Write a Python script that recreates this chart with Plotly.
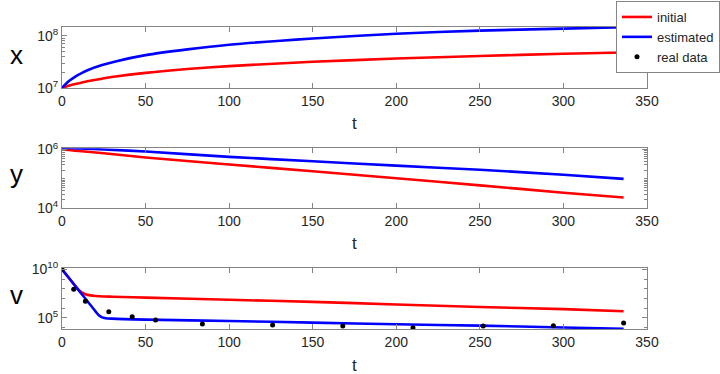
import plotly.graph_objects as go

# ---------------- data ----------------
t_x = [0, 2, 4, 8, 12, 16, 24, 32, 50, 75, 100, 150, 200, 250, 300, 336]
x_initial = [1.00e7, 1.05e7, 1.10e7, 1.19e7, 1.28e7, 1.36e7, 1.51e7, 1.66e7, 1.95e7,
             2.31e7, 2.63e7, 3.18e7, 3.67e7, 4.12e7, 4.53e7, 4.81e7]
x_estimated = [1.00e7, 1.17e7, 1.35e7, 1.66e7, 1.95e7, 2.24e7, 2.75e7, 3.24e7, 4.27e7,
               5.50e7, 6.76e7, 8.91e7, 1.10e8, 1.26e8, 1.38e8, 1.46e8]

t_y = [0, 4, 10, 25, 50, 100, 150, 200, 250, 300, 336]
y_initial = [1.0e6, 9.55e5, 8.91e5, 7.41e5, 5.37e5, 3.09e5, 1.82e5, 1.05e5,
             6.03e4, 3.39e4, 2.34e4]
y_estimated = [1.06e6, 1.12e6, 1.08e6, 1.0e6, 8.51e5, 5.62e5, 3.98e5, 2.82e5,
               2.04e5, 1.38e5, 1.0e5]

t_v_init = [0, 5, 8, 10, 12, 14, 17, 20, 25, 30, 50, 100, 150, 200, 250, 300, 336]
v_initial = [1e10, 8.32e8, 1.86e8, 7.59e7, 3.98e7, 2.69e7, 2.04e7, 1.78e7, 1.58e7,
             1.48e7, 1.20e7, 7.08e6, 4.37e6, 2.34e6, 1.26e6, 7.76e5, 4.57e5]
t_v_est = [0, 5, 10, 15, 18, 20, 22, 24, 26, 30, 50, 100, 150, 200, 250, 300, 336]
v_estimated = [1e10, 8.32e8, 6.76e7, 5.62e6, 1.26e6, 4.57e5, 1.78e5, 1.07e5, 8.91e4,
               7.94e4, 6.31e4, 4.57e4, 3.09e4, 2.09e4, 1.51e4, 9.77e3, 7.24e3]

t_data = [0, 7, 14, 28, 42, 56, 84, 126, 168, 210, 252, 294, 336]
v_data = [1e10, 8.51e7, 5.01e6, 4.17e5, 1.26e5, 5.75e4, 2.24e4, 1.78e4, 1.38e4,
          9.33e3, 1.38e4, 1.48e4, 2.82e4]

x_ticks = [0, 50, 100, 150, 200, 250, 300, 350]

# ---------------- style ----------------
RED = "#ff0000"
BLUE = "#0000ff"
AX = "#858585"
TXT = "#262626"
FONT = "Liberation Sans, Arial, sans-serif"
W, H = 720, 374

fig = go.Figure()

def add_line(x, y, color, name, ax, show):
    fig.add_trace(go.Scatter(
        x=x, y=y, mode="lines", name=name, showlegend=show,
        line=dict(color=color, width=2.6, shape="spline", smoothing=0.8),
        xaxis="x" + ax, yaxis="y" + ax))

add_line(t_x, x_initial, RED, "initial", "", True)
add_line(t_x, x_estimated, BLUE, "estimated", "", True)
add_line(t_y, y_initial, RED, "initial", "2", False)
add_line(t_y, y_estimated, BLUE, "estimated", "2", False)
add_line(t_v_init, v_initial, RED, "initial", "3", False)
add_line(t_v_est, v_estimated, BLUE, "estimated", "3", False)
fig.add_trace(go.Scatter(
    x=t_data, y=v_data, mode="markers", name="real data",
    marker=dict(color="black", size=5), xaxis="x3", yaxis="y3"))

xdom = [62 / W, 647 / W]

def ydom(top, bottom):
    return [1 - bottom / H, 1 - top / H]

def xax(anchor):
    return dict(domain=xdom, range=[0, 350], tickvals=x_ticks,
                ticks="inside", ticklen=5, tickcolor=AX, showline=True,
                linecolor=AX, linewidth=1, mirror="ticks", showgrid=False,
                zeroline=False, anchor=anchor, automargin=False,
                tickfont=dict(family=FONT, size=14, color=TXT))

def yax(anchor, dom, rng, tv, tt, minor_dtick):
    return dict(domain=dom, type="log", range=rng, tickvals=tv, ticktext=tt,
                ticks="inside", ticklen=5, tickcolor=AX, showline=True,
                linecolor=AX, linewidth=1, mirror="ticks", showgrid=False,
                zeroline=False, anchor=anchor, automargin=False,
                minor=dict(ticks="inside", ticklen=3, tickcolor=AX, dtick=minor_dtick,
                           showgrid=False),
                tickfont=dict(family=FONT, size=14, color=TXT))

fig.update_layout(
    width=W, height=H,
    margin=dict(l=0, r=0, t=0, b=0, autoexpand=False),
    paper_bgcolor="white", plot_bgcolor="white",
    showlegend=True,
    legend=dict(x=1, y=1 - 1 / H, xanchor="right", yanchor="top",
                bgcolor="white", bordercolor=AX, borderwidth=1,
                font=dict(family=FONT, size=13, color=TXT),
                itemwidth=30, tracegroupgap=0),
    xaxis=xax("y"),
    xaxis2=xax("y2"),
    xaxis3=xax("y3"),
    yaxis=yax("x", ydom(26.5, 88), [7, 8.18], [1e7, 1e8],
              ["10<sup>7</sup>", "10<sup>8</sup>"], "D1"),
    yaxis2=yax("x2", ydom(148.3, 208.3), [4, 6.04], [1e4, 1e6],
               ["10<sup>4</sup>", "10<sup>6</sup>"], "D1"),
    yaxis3=yax("x3", ydom(267.7, 329), [3.83, 10.17], [1e5, 1e10],
               ["10<sup>5</sup>", "10<sup>10</sup>"], 1),
)

# axis titles
for txt, yc in [("x", 55), ("y", 174), ("v", 295)]:
    fig.add_annotation(text=txt, xref="paper", yref="paper", x=16 / W, y=1 - yc / H,
                       showarrow=False, xanchor="center", yanchor="middle",
                       font=dict(family=FONT, size=26, color="black"))
for yc in [123, 243, 365]:
    fig.add_annotation(text="t", xref="paper", yref="paper", x=354.5 / W, y=1 - yc / H,
                       showarrow=False, xanchor="center", yanchor="middle",
                       font=dict(family=FONT, size=17, color=TXT))

fig.write_html("out.html",
               config={"displayModeBar": False},
               post_script="document.body.style.margin='0';document.body.style.overflow='hidden';")
